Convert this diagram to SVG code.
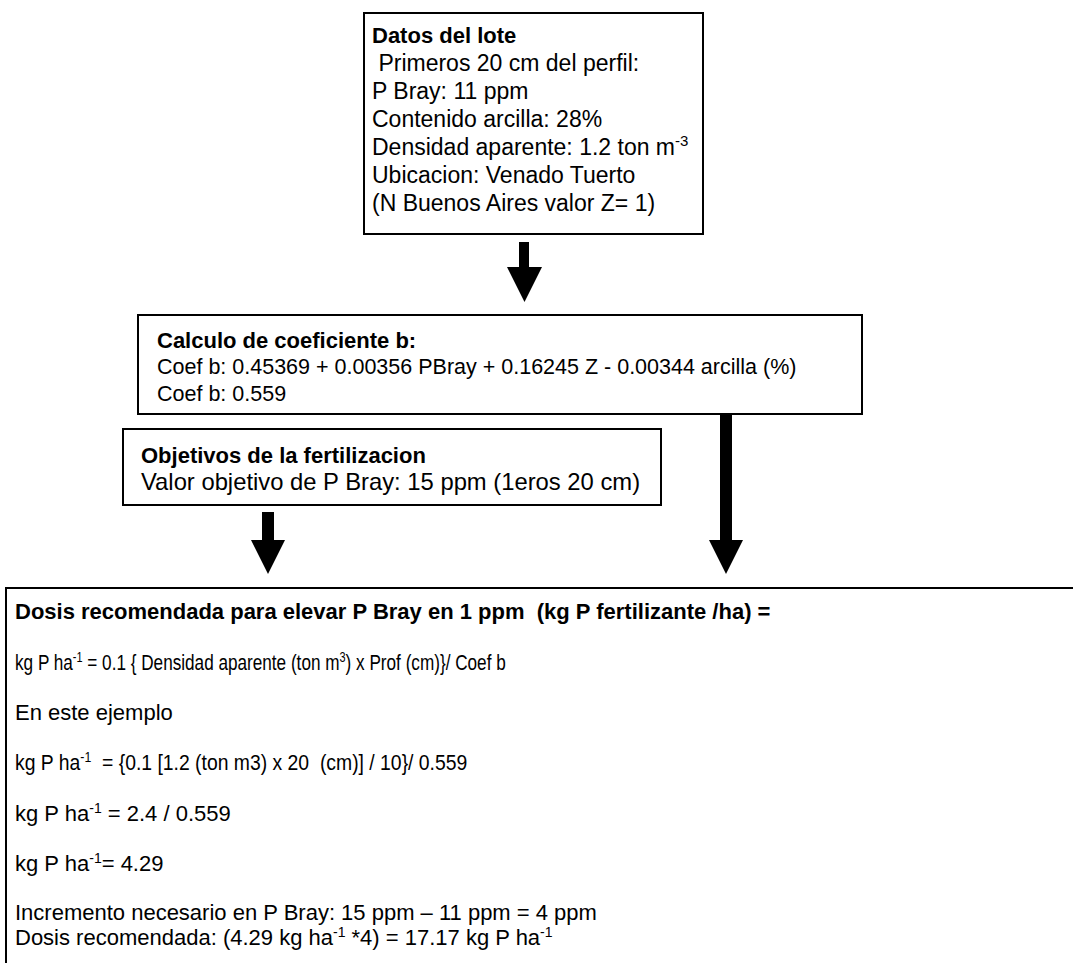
<svg xmlns="http://www.w3.org/2000/svg" width="1073" height="963" viewBox="0 0 1073 963">
<style>
.box{fill:#fff;stroke:#000;stroke-width:2}
text{font-family:"Liberation Sans",Arial,sans-serif;fill:#000;white-space:pre}
.t{font-weight:bold;font-size:22px}
.b1{font-size:23px}
.b2{font-size:21.5px}
.b3{font-size:23.8px}
.b4{font-size:22px}
.arr{fill:#000}
</style>
<rect width="1073" height="963" fill="#fff"/>
<g id="datos">
<rect class="box" x="364" y="13" width="339" height="221"/>
<text class="t" x="372" y="43">Datos del lote</text>
<text class="b1" x="372" y="71"> Primeros 20 cm del perfil:</text>
<text class="b1" x="372" y="99">P Bray: 11 ppm</text>
<text class="b1" x="372" y="127">Contenido arcilla: 28%</text>
<text class="b1" x="372" y="155">Densidad aparente: 1.2 ton m<tspan dy="-9" font-size="15">-3</tspan></text>
<text class="b1" x="372" y="183">Ubicacion: Venado Tuerto</text>
<text class="b1" x="372" y="211">(N Buenos Aires valor Z= 1)</text>
</g>
<g id="calculo">
<rect class="box" x="138" y="315" width="724" height="99"/>
<text class="t" x="157" y="348">Calculo de coeficiente b:</text>
<text class="b2" x="157" y="374">Coef b: 0.45369 + 0.00356 PBray + 0.16245 Z - 0.00344 arcilla (%)</text>
<text class="b2" x="157" y="401">Coef b: 0.559</text>
</g>
<g id="objetivos">
<rect class="box" x="123" y="429" width="538" height="76"/>
<text class="t" x="141" y="463">Objetivos de la fertilizacion</text>
<text class="b3" x="141" y="490">Valor objetivo de P Bray: 15 ppm (1eros 20 cm)</text>
</g>
<g id="dosis">
<rect class="box" x="6" y="588" width="1080" height="400"/>
<text class="t" x="15" y="619">Dosis recomendada para elevar P Bray en 1 ppm  (kg P fertilizante /ha) =</text>
<text class="b4" transform="translate(15 670) scale(0.78 1)" x="0" y="0">kg P ha<tspan dy="-8" font-size="14">-1</tspan><tspan dy="8"> = 0.1 { Densidad aparente (ton m</tspan><tspan dy="-8" font-size="14">3</tspan><tspan dy="8">) x Prof (cm)}/ Coef b</tspan></text>
<text class="b4" x="15" y="720">En este ejemplo</text>
<text class="b4" transform="translate(15 770) scale(0.88 1)" x="0" y="0">kg P ha<tspan dy="-8" font-size="14">-1</tspan><tspan dy="8">  = {0.1 [1.2 (ton m3) x 20  (cm)] / 10}/ 0.559</tspan></text>
<text class="b4" x="15" y="821">kg P ha<tspan dy="-8" font-size="14">-1</tspan><tspan dy="8"> = 2.4 / 0.559</tspan></text>
<text class="b4" x="15" y="871">kg P ha<tspan dy="-8" font-size="14">-1</tspan><tspan dy="8">= 4.29</tspan></text>
<text class="b4" x="15" y="920">Incremento necesario en P Bray: 15 ppm – 11 ppm = 4 ppm</text>
<text class="b4" x="15" y="945">Dosis recomendada: (4.29 kg ha<tspan dy="-8" font-size="14">-1</tspan><tspan dy="8"> *4) = 17.17 kg P ha</tspan><tspan dy="-8" font-size="14">-1</tspan></text>
</g>
<g id="connectors">
<polygon class="arr" points="519,242 529,242 529,267 542,267 524.5,302 507,267 519,267"/>
<polygon class="arr" points="262,512 274,512 274,540 285,540 268,574 251,540 262,540"/>
<polygon class="arr" points="720,414 732,414 732,540 743,540 726,574 709,540 720,540"/>
</g>
</svg>
